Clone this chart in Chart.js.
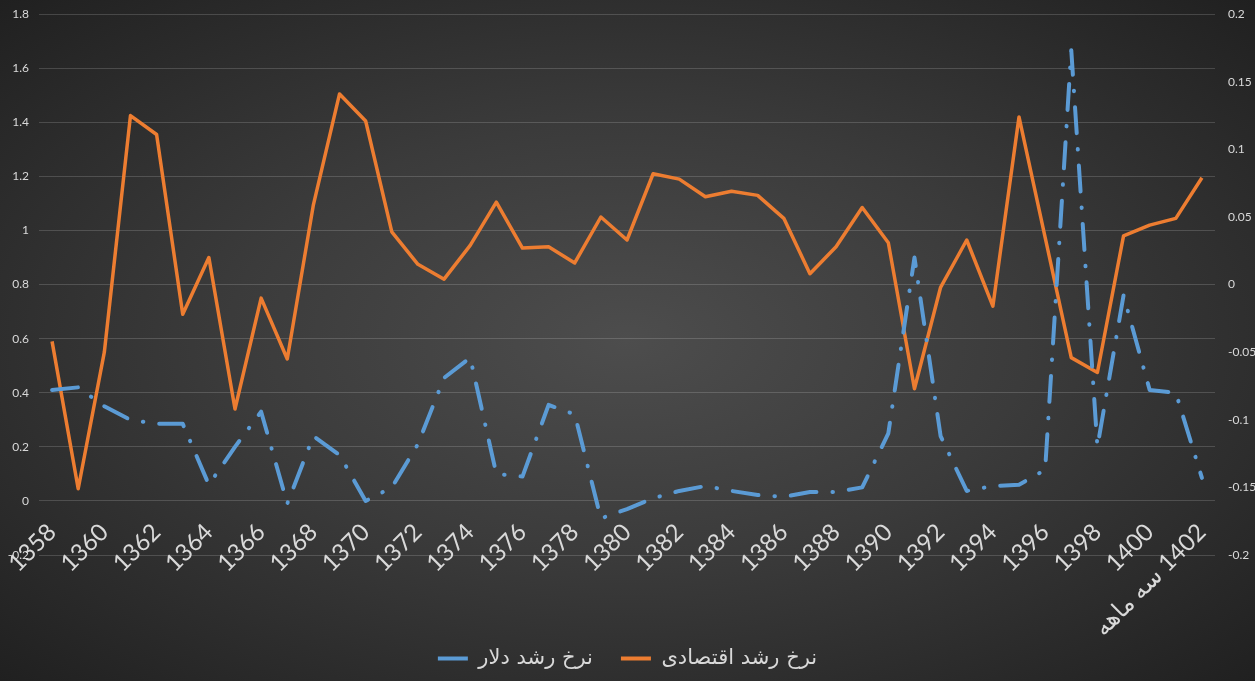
<!DOCTYPE html>
<html lang="fa">
<head>
<meta charset="utf-8">
<title>نرخ رشد دلار و نرخ رشد اقتصادی</title>
<script src="https://cdn.jsdelivr.net/npm/chart.js@4.4.1/dist/chart.umd.min.js"></script>
<style>
html, body {
  margin: 0;
  padding: 0;
}
body {
  width: 1255px;
  height: 681px;
  overflow: hidden;
  background: radial-gradient(ellipse at 50% 50%, #4d4d4d 0%, #3b3b3b 45%, #202020 100%);
}
.chart-container {
  position: relative;
  width: 1255px;
  height: 681px;
}
</style>
</head>
<body>
<div class="chart-container">
  <canvas id="growth-chart"></canvas>
</div>

<script>
// categories (the last one is the first quarter of 1402)
const years = [
  '1358', '1359', '1360', '1361', '1362', '1363', '1364', '1365', '1366', '1367',
  '1368', '1369', '1370', '1371', '1372', '1373', '1374', '1375', '1376', '1377',
  '1378', '1379', '1380', '1381', '1382', '1383', '1384', '1385', '1386', '1387',
  '1388', '1389', '1390', '1391', '1392', '1393', '1394', '1395', '1396', '1397',
  '1398', '1399', '1400', '1401', '1402 سه ماهه'
];

// left axis: dollar growth rate
const dollarGrowth = [
  0.41, 0.42, 0.35, 0.30, 0.285, 0.285, 0.06, 0.20, 0.33, -0.01,
  0.24, 0.17, 0.0, 0.05, 0.21, 0.455, 0.53, 0.10, 0.09, 0.355,
  0.32, -0.065, -0.03, 0.01, 0.037, 0.055, 0.037, 0.022, 0.015, 0.033,
  0.033, 0.05, 0.25, 0.90, 0.24, 0.037, 0.055, 0.06, 0.115, 1.667,
  0.20, 0.76, 0.41, 0.40, 0.085
];

// right axis: economic growth rate
const econGrowth = [
  -0.042, -0.151, -0.05, 0.125, 0.111, -0.022, 0.02, -0.092, -0.01, -0.055,
  0.059, 0.141, 0.121, 0.039, 0.015, 0.004, 0.029, 0.061, 0.027, 0.028,
  0.016, 0.05, 0.033, 0.082, 0.078, 0.065, 0.069, 0.066, 0.049, 0.008,
  0.028, 0.057, 0.031, -0.077, -0.002, 0.033, -0.016, 0.124, 0.035, -0.054,
  -0.065, 0.036, 0.044, 0.049, 0.079
];

const seriesNames = ['نرخ رشد دلار', 'نرخ رشد اقتصادی'];

const textColor = '#d9d9d9';
const blue = '#5b9bd5';
const orange = '#ed7d31';

function trimNumber(v) {
  return String(Math.round(v * 100) / 100);
}

const chartElement = document.getElementById('growth-chart');

new Chart(chartElement, {
  type: 'line',
  data: {
    labels: years,
    datasets: [
      {
        label: seriesNames[0],
        data: dollarGrowth,
        yAxisID: 'yLeft',
        borderColor: blue,
        backgroundColor: blue,
        borderWidth: 4,
        borderDash: [26, 16, 0.5, 16],
        borderCapStyle: 'round',
        borderJoinStyle: 'round',
        pointRadius: 0,
        tension: 0
      },
      {
        label: seriesNames[1],
        data: econGrowth,
        yAxisID: 'yRight',
        borderColor: orange,
        backgroundColor: orange,
        borderWidth: 3.5,
        borderJoinStyle: 'round',
        pointRadius: 0,
        tension: 0
      }
    ]
  },
  options: {
    responsive: true,
    maintainAspectRatio: false,
    animation: false,
    layout: {
      padding: { top: 1, bottom: 2, left: 0, right: 0 }
    },
    plugins: {
      tooltip: { enabled: false },
      legend: {
        position: 'bottom',
        labels: {
          color: textColor,
          font: { family: "'DejaVu Sans', sans-serif", size: 21 },
          boxWidth: 30,
          boxHeight: 4,
          padding: 28,
          generateLabels: function(chart) {
            const items = Chart.defaults.plugins.legend.labels.generateLabels(chart);
            items.forEach(function(item) {
              item.lineWidth = 0;
              item.lineDash = [];
            });
            return items;
          }
        }
      }
    },
    scales: {
      x: {
        offset: true,
        grid: { display: false, drawTicks: false },
        border: { display: false },
        ticks: {
          autoSkip: false,
          minRotation: 45,
          maxRotation: 45,
          // labels start a little under the zero line of the left axis, as in the original
          padding: -37,
          labelOffset: 0,
          color: textColor,
          font: { family: "Lato, 'DejaVu Sans', sans-serif", size: 24 },
          callback: function(value, index) {
            if (index % 2 !== 0) return '';
            const label = this.getLabelForValue(value);
            // RLM so the quarter label reads right to left
            return index === years.length - 1 ? '\u200F' + label : label;
          }
        },
        afterFit: function(scale) {
          scale.height = 65;
          // let the labels run up into the plot area instead of being clipped
          scale._computeLabelArea = function() { return undefined; };
        }
      },
      yLeft: {
        position: 'left',
        min: -0.2,
        max: 1.8,
        grid: {
          color: 'rgba(255,255,255,0.16)',
          drawTicks: true,
          tickLength: 3,
          tickColor: 'rgba(0,0,0,0)'
        },
        border: { display: false },
        ticks: {
          stepSize: 0.2,
          padding: 7,
          color: textColor,
          font: { family: "Lato, sans-serif", size: 12 },
          callback: trimNumber
        },
        afterFit: function(scale) {
          scale.width = 39;
        }
      },
      yRight: {
        position: 'right',
        min: -0.2,
        max: 0.2,
        grid: { display: false, drawTicks: true, tickLength: 6 },
        border: { display: false },
        ticks: {
          stepSize: 0.05,
          padding: 7,
          color: textColor,
          font: { family: "Lato, sans-serif", size: 12 },
          callback: trimNumber
        },
        afterFit: function(scale) {
          scale.width = 40;
        }
      }
    }
  }
});
</script>
</body>
</html>
